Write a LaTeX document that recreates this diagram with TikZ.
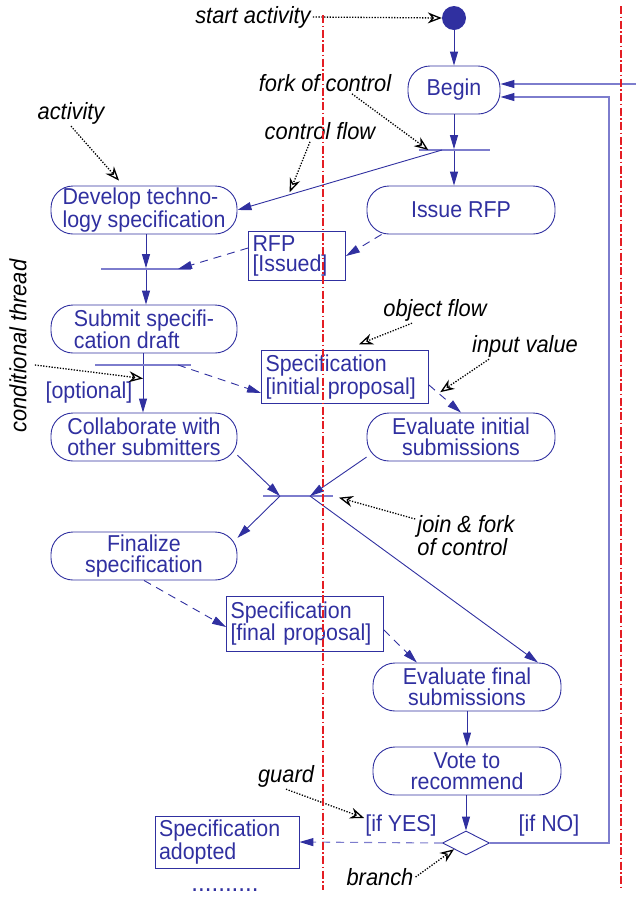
\documentclass[tikz,border=0pt]{standalone}
\usepackage{fontspec}
\setmainfont{Liberation Sans}[FakeStretch=0.93]
\usetikzlibrary{arrows.meta,positioning,shapes.geometric}
\definecolor{umlblue}{RGB}{48,48,160}
\definecolor{umllight}{RGB}{125,125,205}
\definecolor{umlred}{RGB}{228,30,36}
\newcommand{\umlfont}{\fontsize{23}{20.5}\selectfont}
\tikzset{
  activity/.style={draw=umlblue, line width=0.9pt, rounded corners=22pt, text=umlblue,
                   font=\umlfont, minimum width=186pt, minimum height=48pt,
                   align=center, inner sep=2pt},
  objbox/.style={draw=umlblue, line width=0.9pt, text=umlblue, font=\umlfont,
                 align=left, inner sep=4pt, minimum height=#1},
  objbox/.default=45pt,
  syncbar/.style={fill=umllight, minimum height=1.4pt, inner sep=0pt},
  startdot/.style={circle, fill=umlblue, minimum size=24pt, inner sep=0pt},
  branchbox/.style={diamond, draw=umlblue, line width=0.9pt, minimum width=47pt,
                    minimum height=24pt, inner sep=0pt},
  flow/.style={draw=umlblue, line width=0.9pt, -{Triangle[length=14pt,width=8pt]}},
  oflow/.style={flow, dash pattern=on 8pt off 6pt},
  loopflow/.style={draw=umllight, line width=1.1pt,
                   -{Triangle[length=14pt,width=8pt,color=umlblue]}},
  guardlbl/.style={text=umlblue, font=\umlfont, inner sep=1pt},
  note/.style={font=\fontsize{23.5}{23}\selectfont\itshape, text=black, inner sep=2pt},
  noteline/.style={black, line width=1.3pt, dash pattern=on 1.3pt off 1.5pt,
                   -{Stealth[open,length=14pt,width=11pt]}},
  swimlane/.style={umlred, line width=1.6pt, dash pattern=on 8pt off 2.5pt on 1.5pt off 2.5pt},
}

\begin{document}
\begin{tikzpicture}[x=1pt, y=-1pt]
  \useasboundingbox (0,0) rectangle (636,898);

  % Activities
  \node[startdot] (start) at (454,18) {};
  \node[activity, minimum width=92pt] (begin) at (454,90) {Begin};
  \node[activity, align=left] (develop) at (144,210) {Develop techno-\\logy specification};
  \node[activity, minimum width=188pt] (issue) at (461,210) {Issue RFP};
  \node[activity, align=left] (submit) at (144,329) {Submit specifi-\\cation draft};
  \node[activity] (collab) at (144,437) {Collaborate with\\other submitters};
  \node[activity, minimum width=188pt] (evalinit) at (461,437) {Evaluate initial\\submissions};
  \node[activity] (finalize) at (144,556) {Finalize\\specification};
  \node[activity, minimum width=188pt] (evalfinal) at (467,687) {Evaluate final\\submissions};
  \node[activity, minimum width=188pt] (vote) at (467,771) {Vote to\\recommend};
  \node[branchbox] (branch) at (466,843) {};

  % Objects
  \node[objbox, text width=89pt] (rfp) at (297,256) {RFP\\{[Issued]}};
  \node[objbox=48pt, text width=159pt, font=\fontsize{23}{23}\selectfont] (specinit) at (345,377) {Specification\\{[initial proposal]}};
  \node[objbox=55pt, text width=149pt, font=\fontsize{23}{22}\selectfont] (specfinal) at (305,624) {Specification\\{[final proposal]}};
  \node[objbox=49pt, text width=136pt] (adopted) at (227,842) {Specification\\adopted};

  % Synchronisation bars
  \node[syncbar, minimum width=71pt] (fork) at (454,150) {};
  \node[syncbar, minimum width=90pt] (forkrfp) at (146,269) {};
  \node[syncbar, minimum width=96pt] (cond) at (143,365) {};
  \node[syncbar, minimum width=70pt] (join) at (298,496) {};

  % Guards
  \node[guardlbl] (optional) at (89,393) {{[optional]}};
  \node[guardlbl] (ifyes) at (401,826) {{[if YES]}};
  \node[guardlbl] (ifno) at (549,826) {{[if NO]}};
  \node[guardlbl, font=\fontsize{26}{26}\selectfont] (more) at (225,890) {..........};

  % Control flow
  \draw[flow] (start) -- (begin);
  \draw[flow] (begin) -- (fork);
  \draw[flow] (fork) -- (fork |- issue.north);
  \draw[flow] ([xshift=-12pt]fork.center) -- coordinate[pos=0.75] (cf) (develop.east);
  \draw[flow] (develop.south -| forkrfp) -- (forkrfp);
  \draw[flow] (forkrfp) -- (forkrfp |- submit.north);
  \draw[umlblue, line width=0.9pt] (submit.south -| cond) -- (cond);
  \draw[flow] (cond) -- coordinate[pos=0.27] (ct) (cond |- collab.north);
  \draw[flow] (collab.-11) -- ([xshift=-18pt]join.center);
  \draw[flow] (evalinit.192) -- ([xshift=12pt]join.center);
  \draw[flow] ([xshift=-18pt]join.center) -- (finalize.11);
  \draw[flow] ([xshift=12pt]join.center) -- (evalfinal.19);
  \draw[flow] (evalfinal) -- (vote);
  \draw[flow] (vote.south -| branch) -- (branch);

  % Object flow
  \draw[oflow] ([xshift=15pt]issue.south west) -- (rfp.east);
  \draw[oflow] ([yshift=8pt]rfp.west) -- ([xshift=32pt]forkrfp.center);
  \draw[oflow] ([xshift=35pt]cond.center) -- ([yshift=-16pt]specinit.west);
  \draw[oflow] ([yshift=-8pt]specinit.east) -- coordinate[pos=0.3] (iv) (evalinit.north);
  \draw[oflow] (finalize.south) -- ([yshift=-3pt]specfinal.west);
  \draw[oflow] ([yshift=-6pt]specfinal.east) -- (evalfinal.154);
  \draw[loopflow, dash pattern=on 8pt off 6pt] (branch.west) -- (adopted.east);

  % Loop back to Begin
  \coordinate (entry) at (636,84);
  \draw[loopflow] (branch.east) -- ++(119,0) |- ([yshift=-7pt]begin.east);
  \draw[loopflow] (entry) -- ([yshift=6pt]begin.east);

  % Annotations
  \node[note] (lblstart) at (253,17) {start activity};
  \node[note] (lblfork) at (325,83) {fork of control};
  \node[note] (lblactivity) at (71,113) {activity};
  \node[note] (lblcflow) at (320,131) {control flow};
  \node[note, rotate=90] (lblcond) at (18,346) {conditional thread};
  \node[note] (lblobj) at (435,310) {object flow};
  \node[note] (lblinput) at (525,346) {input value};
  \node[note, align=left] (lbljoin) at (466,536) {join \& fork\\of control};
  \node[note] (lblguard) at (286,776) {guard};
  \node[note] (lblbranch) at (380,877) {branch};

  \draw[noteline] (lblstart.east) -- (start.west);
  \draw[noteline] ([xshift=27pt]lblfork.south) -- ([xshift=10pt]fork.west);
  \draw[noteline] (lblactivity.south) -- ([xshift=-25pt,yshift=5pt]develop.north);
  \draw[noteline, shorten >=3pt] ([xshift=-10pt]lblcflow.south) -- (cf);
  \draw[noteline] ([shift={(6pt,-19pt)}]lblcond.south) -- (ct);
  \draw[noteline] ([xshift=-23pt]lblobj.south) -- ([xshift=14pt,yshift=6pt]specinit.north);
  \draw[noteline, shorten >=2pt] ([xshift=-36pt]lblinput.south) -- (iv);
  \draw[noteline, shorten >=6pt] ([yshift=17pt]lbljoin.west) -- (join.east);
  \draw[noteline] (lblguard.south) -- ([yshift=8pt]ifyes.west);
  \draw[noteline] (lblbranch.east) -- (branch.south west);

  % Swimlanes
  \draw[swimlane] (323,15) -- (323,890);
  \draw[swimlane] (621,6) -- (621,890);
\end{tikzpicture}
\end{document}
